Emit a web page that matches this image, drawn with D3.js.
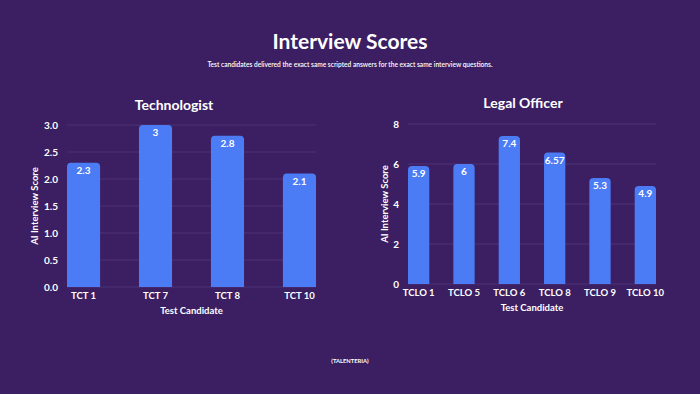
<!DOCTYPE html>
<html>
<head>
<meta charset="utf-8">
<script src="https://cdn.jsdelivr.net/npm/d3@7"></script>
<style>
  body { margin: 0; background: #3b1f62; }
  svg { display: block; font-family: "Lato", "Noto Sans", sans-serif; }
</style>
</head>
<body>
<svg id="chart" width="700" height="394"></svg>
<script>
// data
var techCandidates = ["TCT 1", "TCT 7", "TCT 8", "TCT 10"];
var techScores = [2.3, 3, 2.8, 2.1];
var techTicks = [0, 0.5, 1, 1.5, 2, 2.5, 3];

var legalCandidates = ["TCLO 1", "TCLO 5", "TCLO 6", "TCLO 8", "TCLO 9", "TCLO 10"];
var legalScores = [5.9, 6, 7.4, 6.57, 5.3, 4.9];
var legalTicks = [0, 2, 4, 6, 8];

var barColor = "#4b7bf5";
var gridColor = "#4c3477";

var svg = d3.select("#chart");

svg.append("rect").attr("width", 700).attr("height", 394).attr("fill", "#3b1f62");

svg.append("text")
    .attr("x", 350).attr("y", 49)
    .attr("text-anchor", "middle")
    .attr("fill", "#fff")
    .attr("font-size", 21)
    .attr("font-weight", 700)
    .text("Interview Scores");

svg.append("text")
    .attr("x", 350).attr("y", 67)
    .attr("text-anchor", "middle")
    .attr("fill", "#fff")
    .attr("font-size", 6.6)
    .attr("font-weight", 600)
    .text("Test candidates delivered the exact same scripted answers for the exact same interview questions.");

svg.append("text")
    .attr("x", 350).attr("y", 363)
    .attr("text-anchor", "middle")
    .attr("fill", "#fff")
    .attr("font-size", 5.8)
    .attr("font-weight", 700)
    .text("(TALENTERIA)");

function drawPanel(opts) {
    var g = svg.append("g");
    var x = d3.scaleBand()
        .domain(opts.cats)
        .range([opts.x0, opts.x1])
        .paddingInner(opts.pad)
        .paddingOuter(0);
    var y = d3.scaleLinear()
        .domain([0, opts.max])
        .range([opts.y0, opts.y1]);

    // grid lines
    g.selectAll(".grid")
        .data(opts.ticks)
        .enter()
        .append("line")
        .attr("x1", opts.x0).attr("x2", opts.x1)
        .attr("y1", function (d) { return y(d); })
        .attr("y2", function (d) { return y(d); })
        .attr("stroke", gridColor)
        .attr("stroke-width", 1);

    var yAxis = g.append("g")
        .attr("transform", "translate(" + (opts.x0 - 6) + ",0)")
        .call(d3.axisLeft(y).tickValues(opts.ticks).tickSize(0).tickFormat(opts.fmt));
    yAxis.select(".domain").remove();
    yAxis.selectAll("text")
        .attr("fill", "#fff")
        .attr("font-size", 10)
        .attr("font-weight", 700)
        .attr("font-family", "Lato, sans-serif");

    var xAxis = g.append("g")
        .attr("transform", "translate(0," + opts.y0 + ")")
        .call(d3.axisBottom(x).tickSize(0));
    xAxis.select(".domain").remove();
    xAxis.selectAll("text")
        .attr("dy", "0.71em")
        .attr("y", 5)
        .attr("fill", "#fff")
        .attr("font-size", 9.5)
        .attr("font-weight", 700)
        .attr("font-family", "Lato, sans-serif");

    var r = 4;
    g.selectAll(".bar")
        .data(opts.values)
        .enter()
        .append("path")
        .attr("fill", barColor)
        .attr("d", function (d, i) {
            var bx = x(opts.cats[i]), bw = x.bandwidth();
            var top = y(d), bot = y(0);
            return "M" + bx + "," + bot +
                "V" + (top + r) +
                "Q" + bx + "," + top + " " + (bx + r) + "," + top +
                "H" + (bx + bw - r) +
                "Q" + (bx + bw) + "," + top + " " + (bx + bw) + "," + (top + r) +
                "V" + bot + "Z";
        });

    g.selectAll(".val")
        .data(opts.values)
        .enter()
        .append("text")
        .attr("x", function (d, i) { return x(opts.cats[i]) + x.bandwidth() / 2; })
        .attr("y", function (d) { return y(d) + 11; })
        .attr("text-anchor", "middle")
        .attr("fill", "#fff")
        .attr("font-size", 10)
        .attr("font-weight", 700)
        .text(function (d) { return d; });

    g.append("text")
        .attr("x", opts.titleX).attr("y", opts.titleY)
        .attr("text-anchor", "middle")
        .attr("fill", "#fff")
        .attr("font-size", 14)
        .attr("font-weight", 700)
        .text(opts.title);

    g.append("text")
        .attr("x", (opts.x0 + opts.x1) / 2).attr("y", opts.y0 + 27)
        .attr("text-anchor", "middle")
        .attr("fill", "#fff")
        .attr("font-size", 9.5)
        .attr("font-weight", 700)
        .text("Test Candidate");

    g.append("text")
        .attr("transform", "translate(" + opts.labelX + "," + ((opts.y0 + opts.y1) / 2) + ") rotate(-90)")
        .attr("text-anchor", "middle")
        .attr("fill", "#fff")
        .attr("font-size", 9.5)
        .attr("font-weight", 700)
        .text("AI Interview Score");
}

drawPanel({
    cats: techCandidates, values: techScores, ticks: techTicks, max: 3,
    fmt: d3.format(".1f"),
    x0: 67, x1: 316, y0: 287, y1: 125, pad: 0.54,
    title: "Technologist", titleX: 174, titleY: 110, labelX: 38
});

drawPanel({
    cats: legalCandidates, values: legalScores, ticks: legalTicks, max: 8,
    fmt: d3.format("d"),
    x0: 408, x1: 656, y0: 284, y1: 124, pad: 0.53,
    title: "Legal Officer", titleX: 523, titleY: 108, labelX: 388
});
</script>
</body>
</html>
